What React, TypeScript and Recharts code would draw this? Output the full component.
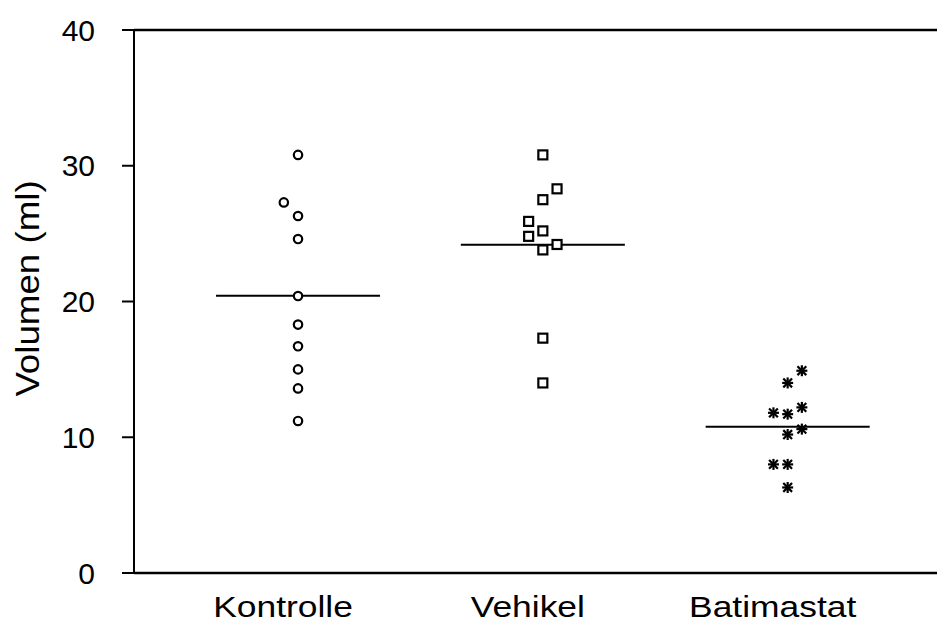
import React from "react";
import {
  ScatterChart,
  Scatter,
  XAxis,
  YAxis,
  ReferenceLine,
} from "recharts";

// groups shown on the x axis
const categories = ["Kontrolle", "Vehikel", "Batimastat"];
const yTicks = [0, 10, 20, 30, 40];

// single animals, volume in ml
const kontrolleValues = [30.8, 27.3, 26.3, 24.6, 20.4, 18.3, 16.7, 15.0, 13.6, 11.2];
const vehikelValues = [30.8, 28.3, 27.5, 25.9, 25.2, 24.8, 23.8, 24.2, 17.3, 14.0];
const batimastatValues = [14.9, 14.0, 11.8, 11.7, 12.2, 10.2, 10.6, 8.0, 8.0, 6.3];

// side-by-side column of each point (-1 left, 0 centre, 1 right)
const kontrolleCols = [0, -1, 0, 0, 0, 0, 0, 0, 0, 0];
const vehikelCols = [0, 1, 0, -1, 0, -1, 0, 1, 0, 0];
const batimastatCols = [1, 0, -1, 0, 1, 0, 1, -1, 0, 0];

const COL_STEP = 0.058;
const HALF_MEAN = 0.335;
const FONT = "Arial, 'Liberation Sans', Helvetica, sans-serif";

const toPoints = (vals: number[], cols: number[], group: number) =>
  vals.map((v, i) => ({ x: group + cols[i] * COL_STEP, y: v }));

const mean = (vals: number[]) => vals.reduce((a, b) => a + b, 0) / vals.length;

const groups = [
  { name: categories[0], points: toPoints(kontrolleValues, kontrolleCols, 1), mean: mean(kontrolleValues) },
  { name: categories[1], points: toPoints(vehikelValues, vehikelCols, 2), mean: mean(vehikelValues) },
  { name: categories[2], points: toPoints(batimastatValues, batimastatCols, 3), mean: mean(batimastatValues) },
];

const CircleShape = (props: any) => (
  <circle cx={props.cx} cy={props.cy} r={4.2} fill="#fff" stroke="#000" strokeWidth={2.2} />
);

const SquareShape = (props: any) => (
  <rect x={props.cx - 4.5} y={props.cy - 4.5} width={9} height={9} fill="#fff" stroke="#000" strokeWidth={2.2} />
);

const StarShape = (props: any) => {
  const { cx, cy } = props;
  const r = 5.5;
  const d = r * 0.8;
  return (
    <g stroke="#000" strokeWidth={2.2}>
      <line x1={cx - r} y1={cy} x2={cx + r} y2={cy} />
      <line x1={cx} y1={cy - r} x2={cx} y2={cy + r} />
      <line x1={cx - d} y1={cy - d} x2={cx + d} y2={cy + d} />
      <line x1={cx - d} y1={cy + d} x2={cx + d} y2={cy - d} />
    </g>
  );
};

const shapes = [CircleShape, SquareShape, StarShape];

const CategoryTick = (props: any) => {
  const { x, y, payload } = props;
  const label = categories[Math.round(payload.value) - 1];
  return (
    <text
      transform={`translate(${x - 15},${y + 44}) scale(1.18,1)`}
      textAnchor="middle"
      fontSize={30}
      fontFamily={FONT}
      fill="#000"
    >
      {label}
    </text>
  );
};

export default function App() {
  return (
    <div style={{ width: 937, height: 625, background: "#fff" }}>
      <style>{`body{margin:0}`}</style>
      <ScatterChart
        width={937}
        height={625}
        margin={{ top: 30, right: 0, bottom: 22, left: 0 }}
      >
        <XAxis
          type="number"
          dataKey="x"
          height={30}
          domain={[0.33, 3.61]}
          ticks={[1, 2, 3]}
          allowDataOverflow
          tickLine={false}
          tickSize={0}
          tickMargin={0}
          axisLine={{ stroke: "#000", strokeWidth: 2.5 }}
          tick={<CategoryTick />}
        />
        <YAxis
          type="number"
          dataKey="y"
          width={134}
          domain={[0, 40]}
          ticks={yTicks}
          tickSize={12}
          tickMargin={27}
          axisLine={{ stroke: "#000", strokeWidth: 2 }}
          tickLine={{ stroke: "#000", strokeWidth: 2 }}
          tick={{ fontSize: 30, fill: "#000", fontFamily: FONT }}
          label={{
            content: (p: any) => {
              const vb = p.viewBox || { x: 0, y: 30, height: 543 };
              return (
                <text
                  transform={`translate(${vb.x + 39},${vb.y + vb.height / 2 - 13}) rotate(-90) scale(1.08,1)`}
                  textAnchor="middle"
                  fontSize={34}
                  fontFamily={FONT}
                  fill="#000"
                >
                  Volumen (ml)
                </text>
              );
            },
          }}
        />
        <ReferenceLine y={40} stroke="#000" strokeWidth={2.5} />
        {groups.map((g, i) => (
          <ReferenceLine
            key={"m" + g.name}
            segment={[
              { x: i + 1 - HALF_MEAN, y: g.mean },
              { x: i + 1 + HALF_MEAN, y: g.mean },
            ]}
            stroke="#000"
            strokeWidth={2}
          />
        ))}
        {groups.map((g, i) => (
          <Scatter
            key={g.name}
            name={g.name}
            data={g.points}
            shape={shapes[i]}
            isAnimationActive={false}
          />
        ))}
      </ScatterChart>
    </div>
  );
}
